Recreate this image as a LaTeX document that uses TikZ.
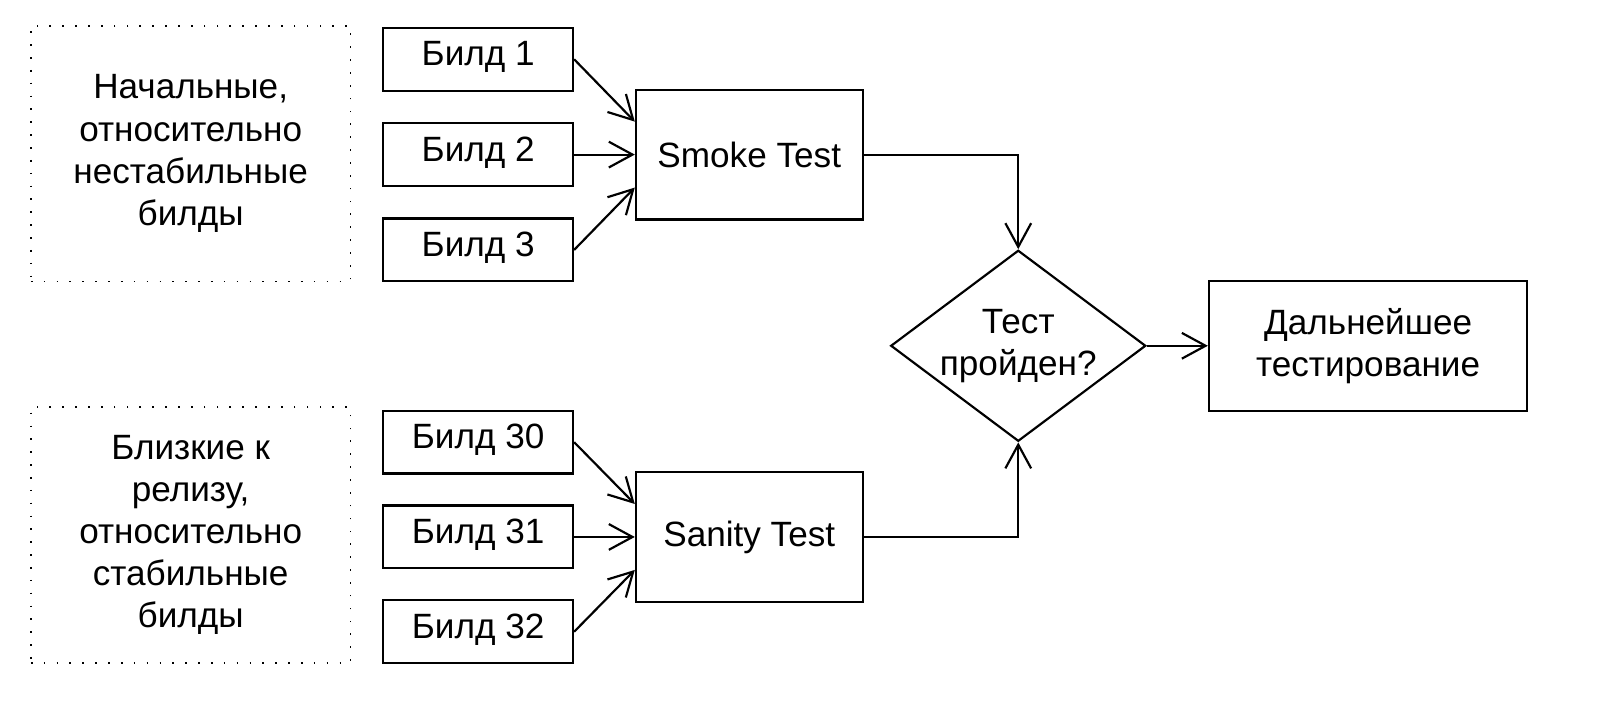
\documentclass[tikz,border=0pt]{standalone}
\usepackage{fontspec}
\setmainfont{Liberation Sans}
\usepackage{tikz}
\usetikzlibrary{shapes.geometric}
\usetikzlibrary{arrows.meta}
\usetikzlibrary{calc}
\tikzset{buildstyle/.style={rectangle,draw,line width=1.2pt,minimum width=3.68cm,minimum height=1.22cm,inner sep=0pt,text height=0.72em,text depth=0pt}}
\tikzset{teststyle/.style={rectangle,draw,line width=1.2pt,minimum width=4.4cm,minimum height=2.52cm,inner sep=0pt,align=center}}
\tikzset{groupstyle/.style={rectangle,draw,line width=0.9pt,dash pattern=on 0.9pt off 6.2pt,minimum width=6.2cm,minimum height=4.96cm,inner sep=0pt,align=center}}
\tikzset{flowarrow/.style={line width=1.2pt,-{Straight Barb[length=4.6mm,width=5mm,line width=1.2pt]}}}

\begin{document}
\begin{tikzpicture}[font=\fontsize{19.4}{23.3}\selectfont]
        \useasboundingbox (0,0) rectangle (31.36,-13.62);

        \node[groupstyle] (early) at (3.70,-2.98)
        {Начальные,\\относительно\\нестабильные\\билды};
        \node[groupstyle] (late) at (3.70,-10.38)
        {Близкие к\\релизу,\\относительно\\стабильные\\билды};

        \foreach \n/\y in {1/-1.15,2/-3.0,3/-4.85,30/-8.58,31/-10.42,32/-12.26}
        {
            \node[buildstyle] (b\n) at (9.28,\y) {Билд \n};
        }

        \node[teststyle] (smoke) at (14.54,-3.0) {Smoke Test};
        \node[teststyle] (sanity) at (14.54,-10.42) {Sanity Test};
        \node[diamond,draw,line width=1.2pt,aspect=1.335,minimum width=4.94cm,minimum height=3.7cm,inner sep=0pt,align=center]
            (passed) at (19.76,-6.71) {Тест\\пройден?};
        \node[teststyle,minimum width=6.18cm] (further) at (26.55,-6.71) {Дальнейшее\\тестирование};

        % Builds to tests
        \foreach \n/\dy in {1/0.64,2/0,3/-0.64}
        {
            \draw[flowarrow] (b\n.east) -- ($(smoke.west)+(0,\dy)$);
        }
        \foreach \n/\dy in {30/0.64,31/0,32/-0.64}
        {
            \draw[flowarrow] (b\n.east) -- ($(sanity.west)+(0,\dy)$);
        }

        % Tests to decision
        \draw[flowarrow] (smoke.east) -| (passed.north);
        \draw[flowarrow] (sanity.east) -| (passed.south);
        \draw[flowarrow] (passed.east) -- (further.west);
    \end{tikzpicture}
\end{document}
